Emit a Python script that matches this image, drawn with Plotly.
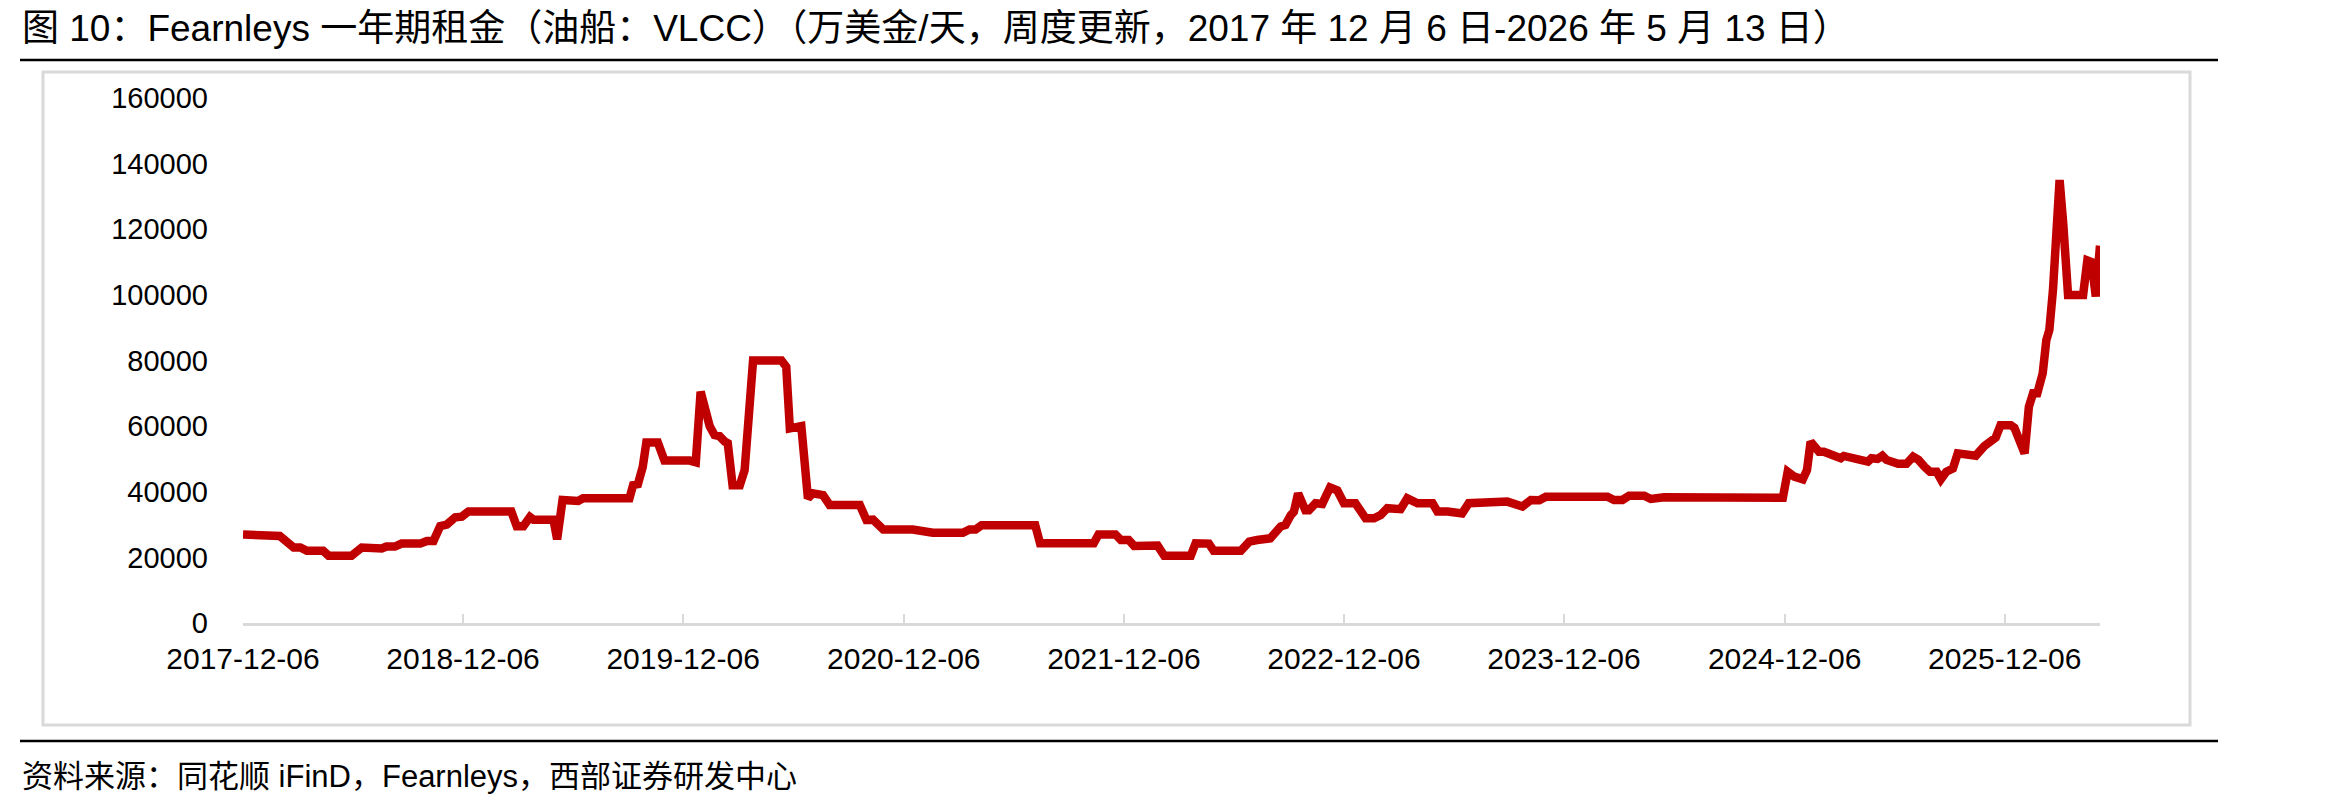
import plotly.graph_objects as go

# ---- data ----
dates = [
    "2017-12-06", "2018-01-22", "2018-02-05", "2018-02-28", "2018-03-11", "2018-03-22",
    "2018-04-18", "2018-04-27", "2018-06-04", "2018-06-21", "2018-07-24", "2018-08-01",
    "2018-08-15", "2018-08-26", "2018-09-26", "2018-10-07", "2018-10-18", "2018-10-29",
    "2018-11-09", "2018-11-23", "2018-12-04", "2018-12-15", "2019-02-24", "2019-03-05",
    "2019-03-16", "2019-03-27", "2019-04-02", "2019-05-05", "2019-05-11", "2019-05-20",
    "2019-06-15", "2019-06-23", "2019-09-08", "2019-09-14", "2019-09-22", "2019-09-30",
    "2019-10-06", "2019-10-25", "2019-11-05", "2019-12-17", "2019-12-27", "2020-01-04",
    "2020-01-19", "2020-01-27", "2020-02-04", "2020-02-13", "2020-02-18", "2020-02-26",
    "2020-03-09", "2020-03-17", "2020-03-31", "2020-05-17", "2020-05-25", "2020-05-31",
    "2020-06-19", "2020-06-30", "2020-07-08", "2020-07-25", "2020-08-05", "2020-09-24",
    "2020-10-05", "2020-10-16", "2020-11-02", "2020-12-21", "2021-01-07", "2021-01-23",
    "2021-03-14", "2021-03-25", "2021-04-04", "2021-04-14", "2021-07-12", "2021-07-20",
    "2021-10-17", "2021-10-25", "2021-11-22", "2021-12-01", "2021-12-14", "2021-12-23",
    "2022-01-31", "2022-02-11", "2022-03-27", "2022-04-04", "2022-04-26", "2022-05-04",
    "2022-06-18", "2022-07-02", "2022-07-15", "2022-08-06", "2022-08-23", "2022-08-31",
    "2022-09-09", "2022-09-14", "2022-09-21", "2022-10-03", "2022-10-09", "2022-10-20",
    "2022-10-31", "2022-11-13", "2022-11-25", "2022-12-06", "2022-12-25", "2023-01-11",
    "2023-01-25", "2023-02-05", "2023-02-16", "2023-03-10", "2023-03-21", "2023-04-07",
    "2023-05-02", "2023-05-10", "2023-05-27", "2023-06-12", "2023-06-20", "2023-07-01",
    "2023-09-03", "2023-09-28", "2023-10-12", "2023-10-26", "2023-11-06", "2024-02-16",
    "2024-02-27", "2024-03-12", "2024-03-23", "2024-04-17", "2024-04-28", "2024-05-20",
    "2024-08-16", "2024-09-02", "2024-09-13", "2024-12-03", "2024-12-11", "2024-12-22",
    "2025-01-05", "2025-01-12", "2025-01-18", "2025-02-01", "2025-02-09", "2025-02-21",
    "2025-03-01", "2025-03-09", "2025-03-14", "2025-03-26", "2025-04-12", "2025-04-23",
    "2025-04-29", "2025-05-09", "2025-05-17", "2025-05-24", "2025-06-12", "2025-06-26",
    "2025-07-07", "2025-07-16", "2025-07-26", "2025-08-04", "2025-08-15", "2025-08-22",
    "2025-08-31", "2025-09-11", "2025-09-19", "2025-10-01", "2025-10-19", "2025-11-02",
    "2025-11-13", "2025-11-21", "2025-11-29", "2025-12-16", "2025-12-22", "2026-01-08",
    "2026-01-15", "2026-01-22", "2026-01-29", "2026-02-07", "2026-02-13", "2026-02-18",
    "2026-02-24", "2026-03-07", "2026-03-13", "2026-03-21", "2026-04-15", "2026-04-22",
    "2026-04-29", "2026-05-06", "2026-05-13",
]
rates = [
    27000, 27000, 26500, 23000, 23000, 22000,
    22000, 20500, 20500, 23000, 22700, 23300,
    23300, 24200, 24200, 25000, 25000, 29500,
    30000, 32200, 32400, 34000, 34000, 29500,
    29500, 32300, 31500, 31500, 25500, 37500,
    37200, 38000, 38000, 42000, 42300, 47600,
    55000, 55000, 49500, 49500, 49000, 70500,
    60000, 57300, 57000, 55300, 54800, 42000,
    42000, 46600, 80000, 80000, 78100, 59300,
    60000, 38000, 39500, 39000, 36000, 36000,
    31400, 31500, 28500, 28500, 28000, 27500,
    27500, 28500, 28500, 29800, 29800, 24300,
    24300, 27000, 27000, 25300, 25300, 23500,
    23600, 20500, 20500, 24300, 24200, 22000,
    22000, 24800, 25300, 25800, 29400, 29900,
    32900, 33900, 39500, 34400, 34400, 36500,
    36300, 41300, 40400, 36500, 36500, 31900,
    31900, 32900, 35000, 34700, 38000, 36500,
    36500, 34000, 34000, 33400, 33400, 36500,
    37000, 35500, 37500, 37400, 38500, 38500,
    37500, 37500, 38800, 38800, 37800, 38300,
    38300, 37700, 38200, 38200, 46100, 44600,
    43800, 46600, 55200, 52200, 52200, 51200,
    51200, 50200, 50900, 50200, 49200, 49200,
    50200, 50000, 51000, 49700, 48500, 48500,
    50700, 49700, 47600, 46100, 46100, 43800,
    46100, 47100, 51700, 51200, 51000, 53900,
    55300, 56500, 60300, 60300, 59500, 51700,
    65900, 70000, 70000, 76100, 86200, 89300,
    101500, 135000, 121800, 100000, 100000, 110500,
    110000, 99500, 115000,
]
x_ticks = ["2017-12-06", "2018-12-06", "2019-12-06", "2020-12-06", "2021-12-06",
           "2022-12-06", "2023-12-06", "2024-12-06", "2025-12-06"]
y_ticks = [0, 20000, 40000, 60000, 80000, 100000, 120000, 140000, 160000]
x_range = ["2017-12-06", "2026-05-13"]

title_text = "图 10：Fearnleys 一年期租金（油船：VLCC）（万美金/天，周度更新，2017 年 12 月 6 日-2026 年 5 月 13 日）"
source_text = "资料来源：同花顺 iFinD，Fearnleys，西部证券研发中心"

# ---- layout geometry (pixels) ----
W, H = 2338, 807
L, R, T, B = 243, 238, 98, 184
PW, PH = W - L - R, H - T - B

def px(x):
    return (x - L) / PW

def py(y):
    return (H - B - y) / PH

FONT = "Liberation Sans, Arial, Noto Sans CJK SC, sans-serif"

fig = go.Figure()
fig.add_trace(go.Scatter(
    x=dates, y=rates, mode="lines",
    line=dict(color="#C00000", width=8.5),
    hoverinfo="skip", showlegend=False,
))

shapes = [
    # title rule
    dict(type="line", xref="paper", yref="paper", x0=px(20), x1=px(2218), y0=py(60), y1=py(60),
         line=dict(color="#000000", width=2.5)),
    # chart frame
    dict(type="rect", xref="paper", yref="paper", x0=px(43), x1=px(2190), y0=py(72), y1=py(725),
         line=dict(color="#D9D9D9", width=3), layer="below"),
    # bottom rule
    dict(type="line", xref="paper", yref="paper", x0=px(20), x1=px(2218), y0=py(741), y1=py(741),
         line=dict(color="#000000", width=2.5)),
]

annotations = [
    dict(text=title_text, xref="paper", yref="paper", x=px(20), y=py(29),
         xanchor="left", yanchor="middle", showarrow=False,
         font=dict(family=FONT, size=37, color="#000000")),
    dict(text=source_text, xref="paper", yref="paper", x=px(20), y=py(776),
         xanchor="left", yanchor="middle", showarrow=False,
         font=dict(family=FONT, size=31, color="#000000")),
]

fig.update_layout(
    width=W, height=H,
    margin=dict(l=L, r=R, t=T, b=B, pad=0),
    paper_bgcolor="#FFFFFF", plot_bgcolor="#FFFFFF",
    shapes=shapes, annotations=annotations,
    font=dict(family=FONT, size=29, color="#000000"),
    xaxis=dict(
        type="date", range=x_range,
        tickvals=x_ticks, ticktext=x_ticks,
        showgrid=False, zeroline=False,
        showline=True, linecolor="#D9D9D9", linewidth=3,
        ticks="inside", ticklen=9, tickwidth=2, tickcolor="#D9D9D9",
        tickfont=dict(family=FONT, size=30, color="#000000"),
        ticklabelstandoff=7,
    ),
    yaxis=dict(
        range=[0, 160000], tickvals=y_ticks, ticktext=[str(v) for v in y_ticks],
        showgrid=False, zeroline=False, showline=False, ticks="",
        tickfont=dict(family=FONT, size=29, color="#000000"),
        ticklabelstandoff=34,
    ),
)

fig.write_html("out.html")
